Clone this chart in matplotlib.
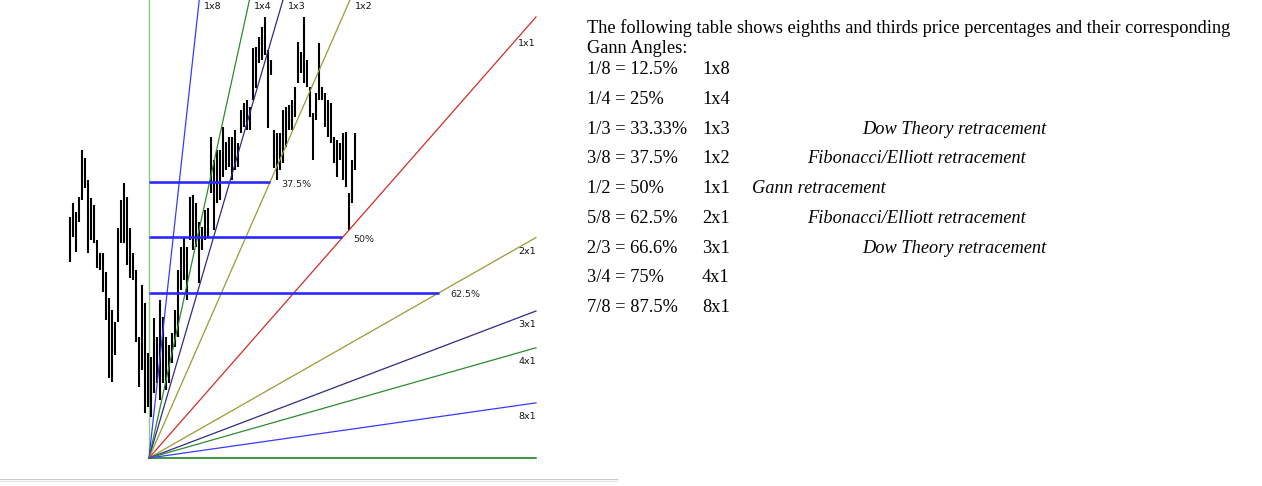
import matplotlib
matplotlib.use("Agg")
import matplotlib.pyplot as plt
from matplotlib.lines import Line2D

# price bars (high / low), one per bar
highs = [154.6, 157.8, 155.8, 159.2, 169.8, 168.0, 163.0, 159.0, 157.4, 149.4,
         146.5, 146.5, 142.2, 136.3, 133.6, 130.8, 152.2, 158.5, 162.4, 159.2,
         152.2, 146.5, 142.6, 127.4, 139.2, 135.1, 123.8, 122.9, 131.7, 127.4,
         135.8, 132.0, 127.4, 125.6, 128.3, 133.6, 142.6, 147.8, 149.9, 147.8,
         159.2, 159.6, 157.8, 153.5, 152.4, 156.2, 156.7, 172.8, 167.6, 169.8,
         169.8, 175.1, 171.7, 172.8, 172.8, 174.4, 171.4, 178.9, 180.5, 181.2,
         179.6, 193.0, 193.2, 195.5, 197.7, 200.0, 192.5, 190.2, 174.4, 173.7,
         173.7, 178.9, 179.6, 180.0, 181.2, 184.1, 194.3, 192.1, 200.0, 190.2,
         184.1, 178.2, 182.8, 194.1, 184.1, 182.8, 181.2, 180.5, 172.8, 172.1,
         171.4, 173.7, 173.9, 160.1, 167.6, 173.7]
lows = [144.4, 150.1, 146.7, 153.5, 158.5, 161.2, 146.5, 149.4, 148.8, 143.1,
        142.6, 137.6, 131.3, 118.1, 117.2, 123.4, 130.8, 148.8, 148.8, 143.8,
        140.8, 140.4, 126.3, 116.1, 120.0, 110.2, 111.6, 109.3, 114.7, 117.0,
        113.2, 117.0, 115.4, 117.0, 121.5, 125.2, 127.4, 138.1, 140.4, 135.8,
        149.4, 147.2, 147.8, 139.7, 147.2, 149.4, 150.1, 160.1, 151.7, 157.8,
        158.5, 163.7, 165.3, 166.0, 163.0, 165.3, 166.0, 173.7, 175.1, 174.4,
        174.4, 181.2, 183.9, 189.6, 190.2, 191.4, 174.8, 186.8, 165.8, 163.0,
        165.3, 166.9, 170.5, 174.4, 174.4, 177.3, 185.0, 187.3, 185.0, 184.1,
        177.3, 167.6, 176.6, 181.2, 181.2, 175.1, 172.8, 171.4, 166.9, 163.7,
        167.6, 163.0, 161.5, 151.7, 157.8, 165.3]

# gann fan
fan_start_bar = 26.33
range_low = 100.0
range_high = 200.0
fan_bars = 129
fan_names = ["1x8", "1x4", "1x3", "1x2", "1x1", "2x1", "3x1", "4x1", "8x1"]
fan_ratios = [8, 4, 3, 2, 1, 1 / 2, 1 / 3, 1 / 4, 1 / 8]
fan_colors = ["#3a3aff", "#2e8a2e", "#2c2c86", "#9a9a35", "#d42a2a",
              "#9a9a35", "#2c2c86", "#2e8a2e", "#3a3aff"]

# retracement levels and the fan line they run to
retr_pcts = [37.5, 50.0, 62.5]
retr_ratio = [2, 1, 1 / 2]
retr_labels = ["37.5%", "50%", "62.5%"]

# table on the right
tbl_frac = ["1/8 = 12.5%", "1/4 = 25%", "1/3 = 33.33%", "3/8 = 37.5%", "1/2 = 50%",
            "5/8 = 62.5%", "2/3 = 66.6%", "3/4 = 75%", "7/8 = 87.5%"]
tbl_angle = ["1x8", "1x4", "1x3", "1x2", "1x1", "2x1", "3x1", "4x1", "8x1"]
tbl_note = ["", "", "Dow Theory retracement", "Fibonacci/Elliott retracement",
            "Gann retracement", "Fibonacci/Elliott retracement",
            "Dow Theory retracement", "", ""]
note_x = [0, 0, 862, 807, 752, 807, 862, 0, 0]

W, H = 1262, 486
BAR_PX = 3.0
PRICE_PX = 4.41
X0_PX, Y0_PX = 70, 458

fig = plt.figure(figsize=(W / 100, H / 100), dpi=100)
ax = fig.add_axes([0, 0, 1, 1])
ax.set_xlim(-X0_PX / BAR_PX, (W - X0_PX) / BAR_PX)
ax.set_ylim(range_low - (H - Y0_PX) / PRICE_PX, range_low + Y0_PX / PRICE_PX)
ax.axis("off")

# bars
ax.vlines(range(len(highs)), lows, highs, color="black", lw=1.5, zorder=3)

unit = (range_high - range_low) / fan_bars
end_bar = fan_start_bar + fan_bars
top = ax.get_ylim()[1]

# frame lines of the fan
ax.plot([fan_start_bar, fan_start_bar], [range_low, top], color="#8cc88c", lw=1, zorder=2)
ax.plot([fan_start_bar, end_bar], [range_low, range_low], color="#0a7a0a", lw=1.1, zorder=2)

for name, r, c in zip(fan_names, fan_ratios, fan_colors):
    ax.plot([fan_start_bar, end_bar], [range_low, range_low + r * unit * fan_bars],
            color=c, lw=0.9, zorder=4)
    end_p = range_low + r * unit * fan_bars
    if end_p > top:
        cross = fan_start_bar + (top - range_low) / (r * unit)
        ax.annotate(name, (cross, top), xytext=(3.5, -4.5), textcoords="offset points",
                    fontsize=6.8, va="center", ha="left", color="#111")
    else:
        dy = -19 if name == "1x1" else -10
        ax.annotate(name, (end_bar, end_p), xytext=(0, dy), textcoords="offset points",
                    fontsize=6.8, va="center", ha="right", color="#111")

span = range_high - range_low
for pct, r, lab in zip(retr_pcts, retr_ratio, retr_labels):
    lvl = range_high - pct / 100 * span
    stop = fan_start_bar + (lvl - range_low) / (r * unit)
    ax.plot([fan_start_bar, stop], [lvl, lvl], color="#2a2aff", lw=1.9, zorder=5,
            solid_capstyle="butt")
    ax.annotate(lab, (stop, lvl), xytext=(8, -1.5), textcoords="offset points",
                fontsize=6.8, va="center", ha="left", color="#222")

# separator at the bottom
for yy, cc in [(478.5, "#c8c8c8"), (481, "#e2e2e2")]:
    fig.add_artist(Line2D([0, 617 / W], [1 - yy / H] * 2, color=cc, lw=0.8))

serif = ["Liberation Serif", "DejaVu Serif"]
fs = 13.2
fig.text(587 / W, 1 - 33 / H,
         "The following table shows eighths and thirds price percentages and their corresponding",
         family=serif, fontsize=fs, va="baseline")
fig.text(587 / W, 1 - 53 / H, "Gann Angles:", family=serif, fontsize=fs, va="baseline")
for i, (fr, an, nt, nx) in enumerate(zip(tbl_frac, tbl_angle, tbl_note, note_x)):
    yb = 1 - (74 + i * 29.75) / H
    fig.text(587 / W, yb, fr, family=serif, fontsize=fs, va="baseline")
    fig.text(702 / W, yb, an, family=serif, fontsize=fs, va="baseline")
    if nt:
        fig.text(nx / W, yb, nt, family=serif, fontsize=fs, va="baseline", style="italic")

fig.savefig("out.png", dpi=100)
